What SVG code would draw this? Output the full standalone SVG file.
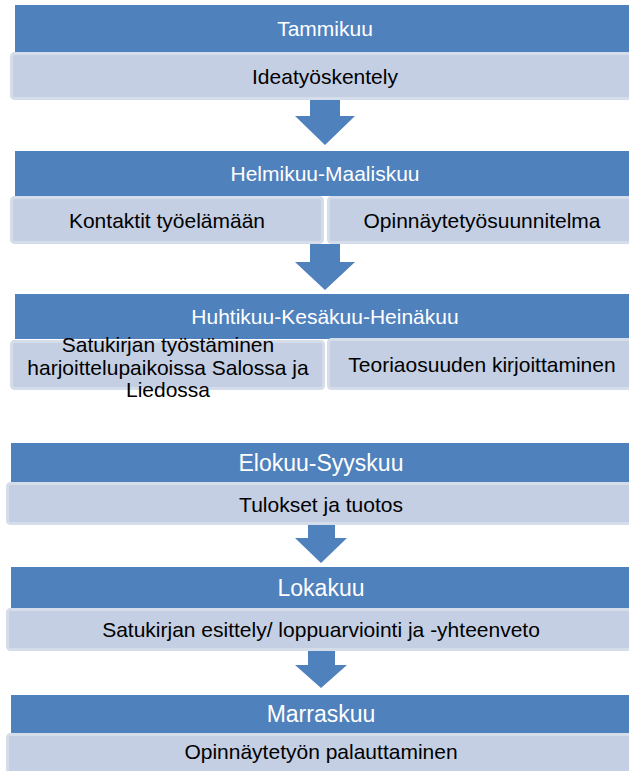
<svg xmlns="http://www.w3.org/2000/svg" width="629" height="771" viewBox="0 0 629 771">
<style>
.hd{fill:#4f81bd}
.sb{fill:#c4cfe3;stroke:#d5dcea;stroke-width:3}
.ar{fill:#4f81bd}
text{font-family:"Liberation Sans",Arial,sans-serif;text-anchor:middle}
.ht{fill:#ffffff;font-size:21px}
.ht2{fill:#ffffff;font-size:23px}
.bt{fill:#000000;font-size:21px}
</style>
<rect width="629" height="771" fill="#ffffff"/>
<g id="connectors">
<polygon class="ar" points="310,97 340,97 340,116 355,116 325,145 295,116 310,116"/>
<polygon class="ar" points="310,244 340,244 340,262 355,262 325,290 295,262 310,262"/>
<polygon class="ar" points="308,522 335,522 335,538 347,538 321,563 295,538 308,538"/>
<polygon class="ar" points="308,648 335,648 335,665 347,665 321,688 295,665 308,665"/>
</g>
<g id="tammikuu">
<rect class="hd" x="15" y="5" width="620" height="47"/>
<text class="ht" x="325" y="36">Tammikuu</text>
</g>
<g id="ideatyoskentely">
<rect class="sb" x="11.5" y="53.5" width="630" height="45" rx="3"/>
<text class="bt" x="325" y="84">Ideatyöskentely</text>
</g>
<g id="helmikuu-maaliskuu">
<rect class="hd" x="15" y="151" width="620" height="45"/>
<text class="ht" x="325" y="181">Helmikuu-Maaliskuu</text>
</g>
<g id="kontaktit">
<rect class="sb" x="11.5" y="197.5" width="311" height="45" rx="3"/>
<text class="bt" x="167" y="228">Kontaktit työelämään</text>
</g>
<g id="opinnaytetyosuunnitelma">
<rect class="sb" x="328.5" y="197.5" width="310" height="45" rx="3"/>
<text class="bt" x="482" y="228">Opinnäytetyösuunnitelma</text>
</g>
<g id="huhtikuu">
<rect class="hd" x="15" y="294" width="620" height="45"/>
<text class="ht" x="325" y="324">Huhtikuu-Kesäkuu-Heinäkuu</text>
</g>
<g id="teoriaosuus">
<rect class="sb" x="328.5" y="339.5" width="310" height="49" rx="3"/>
<text class="bt" x="482" y="372">Teoriaosuuden kirjoittaminen</text>
</g>
<g id="satukirjan-tyostaminen">
<rect class="sb" x="11.5" y="341.5" width="312" height="47" rx="3"/>
<text class="bt" x="168" y="352">Satukirjan työstäminen</text>
<text class="bt" x="168" y="374.5">harjoittelupaikoissa Salossa ja</text>
<text class="bt" x="168" y="397">Liedossa</text>
</g>
<g id="elokuu-syyskuu">
<rect class="hd" x="11" y="443" width="620" height="39"/>
<text class="ht2" x="321" y="470.5">Elokuu-Syyskuu</text>
</g>
<g id="tulokset">
<rect class="sb" x="7.5" y="483.5" width="630" height="40" rx="3"/>
<text class="bt" x="321" y="511.5">Tulokset ja tuotos</text>
</g>
<g id="lokakuu">
<rect class="hd" x="11" y="567" width="620" height="41"/>
<text class="ht2" x="321" y="595.5">Lokakuu</text>
</g>
<g id="esittely">
<rect class="sb" x="7.5" y="609.5" width="630" height="40" rx="3"/>
<text class="bt" x="321" y="637">Satukirjan esittely/ loppuarviointi ja -yhteenveto</text>
</g>
<g id="marraskuu">
<rect class="hd" x="11" y="695" width="620" height="38"/>
<text class="ht2" x="321" y="722">Marraskuu</text>
</g>
<g id="palauttaminen">
<rect class="sb" x="7.5" y="734.5" width="630" height="45" rx="3"/>
<text class="bt" x="321" y="759">Opinnäytetyön palauttaminen</text>
</g>
</svg>
